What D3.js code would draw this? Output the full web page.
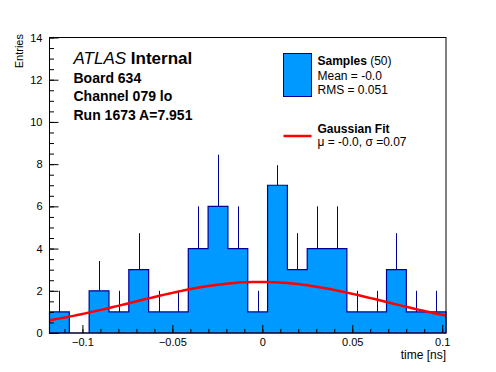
<!DOCTYPE html>
<html>
<head>
<meta charset="utf-8">
<script src="https://cdn.jsdelivr.net/npm/d3@7"></script>
<style>
  body { margin: 0; background: #fff; }
  svg { display: block; font-family: "Liberation Sans", Arial, Helvetica, sans-serif; }
</style>
</head>
<body>
<svg width="496" height="372"></svg>
<script>
  // histogram range and contents (20 bins)
  const binMin = -0.1183, binMax = 0.1021;
  const counts = [1, 0, 2, 1, 3, 1, 1, 4, 6, 4, 1, 7, 3, 4, 4, 1, 1, 3, 1, 1];
  const errors = [1, 0, 1.41, 1, 1.73, 1, 1, 2, 2.45, 2, 1, 0.95, 1.73, 2, 2, 1, 1, 1.73, 1, 1];
  const xTicks = [-0.1, -0.05, 0, 0.05, 0.1];
  const yTicks = [0, 2, 4, 6, 8, 10, 12, 14];
  const sampleCount = 50;
  // gaussian fit parameters
  const fitAmp = 2.42, fitMean = -0.0012, fitSigma = 0.0703;
  const infoLines = ["Board 634", "Channel 079 lo", "Run 1673 A=7.951"];

  const fillColor = "#0099ff", lineColor = "#000099";

  const svg = d3.select("svg");
  const padL = 49.5, padR = 446, padT = 37.5, padB = 333;

  const x = d3.scaleLinear().domain([binMin, binMax]).range([padL, padR]);
  const y = d3.scaleLinear().domain([0, 14]).range([padB, padT]);

  const nb = counts.length;
  const bw = (binMax - binMin) / nb;
  const bins = counts.map((c, i) => ({ x0: binMin + i * bw, x1: binMin + (i + 1) * bw, c, e: errors[i] }));

  // error bars (upper part, lower part is hidden by the fill)
  svg.append("g").selectAll("line")
    .data(bins.filter(d => d.c > 0))
    .enter().append("line")
    .attr("x1", d => Math.round(x((d.x0 + d.x1) / 2)) + 0.5)
    .attr("x2", d => Math.round(x((d.x0 + d.x1) / 2)) + 0.5)
    .attr("y1", d => y(d.c))
    .attr("y2", d => y(d.c + d.e))
    .attr("stroke", lineColor)
    .attr("stroke-width", 1);

  // filled histogram as a step path
  const pts = [[x(binMin), y(0)]];
  bins.forEach(d => { pts.push([x(d.x0), y(d.c)]); pts.push([x(d.x1), y(d.c)]); });
  pts.push([x(binMax), y(0)]);

  svg.append("path")
    .attr("d", d3.line()(pts) + "Z")
    .attr("fill", fillColor)
    .attr("stroke", lineColor)
    .attr("stroke-width", 1.2);

  // gaussian fit curve
  const gauss = t => fitAmp * Math.exp(-((t - fitMean) ** 2) / (2 * fitSigma * fitSigma));
  const xs = d3.range(101).map(i => binMin + i * (binMax - binMin) / 100);
  svg.append("path")
    .attr("d", d3.line().x(t => x(t)).y(t => y(gauss(t)))(xs))
    .attr("fill", "none")
    .attr("stroke", "#ff0000")
    .attr("stroke-width", 2.5);

  // axes, ticks pointing inward
  const fmt = d3.format("~g");
  const xMinor = svg.append("g").attr("transform", `translate(0,${padB})`)
    .call(d3.axisBottom(x).tickValues(d3.range(-11, 11).map(i => i / 100)).tickSize(-4).tickFormat(""));
  xMinor.select(".domain").remove();
  const xMajor = svg.append("g").attr("transform", `translate(0,${padB})`)
    .call(d3.axisBottom(x).tickValues(xTicks).tickSize(-8).tickPadding(5.5).tickFormat(fmt));
  xMajor.select(".domain").remove();

  const yMinor = svg.append("g").attr("transform", `translate(${padL},0)`)
    .call(d3.axisLeft(y).tickValues(d3.range(0, 29).map(i => i / 2)).tickSize(-4.5).tickFormat(""));
  yMinor.select(".domain").remove();
  const yMajor = svg.append("g").attr("transform", `translate(${padL},0)`)
    .call(d3.axisLeft(y).tickValues(yTicks).tickSize(-9).tickPadding(7).tickFormat(fmt));
  yMajor.select(".domain").remove();

  svg.selectAll(".tick line").attr("stroke", "#000");
  svg.selectAll(".tick text").attr("font-size", 11).attr("font-family", "Liberation Sans, Arial, sans-serif").attr("fill", "#000");

  // frame
  svg.append("rect")
    .attr("x", padL).attr("y", padT)
    .attr("width", padR - padL).attr("height", padB - padT)
    .attr("fill", "none").attr("stroke", "#000").attr("stroke-width", 1);

  // axis titles
  svg.append("text")
    .attr("x", padR).attr("y", 359)
    .attr("text-anchor", "end").attr("font-size", 12)
    .text("time [ns]");
  svg.append("text")
    .attr("transform", "translate(23,34) rotate(-90)")
    .attr("text-anchor", "end").attr("font-size", 11)
    .text("Entries");

  // ATLAS label
  const atlas = svg.append("text").attr("x", 73.5).attr("y", 64).attr("font-size", 17);
  atlas.append("tspan").attr("font-style", "italic").text("ATLAS");
  atlas.append("tspan").attr("font-weight", "bold").text(" Internal");

  svg.append("g").selectAll("text")
    .data(infoLines)
    .enter().append("text")
    .attr("x", 73.5)
    .attr("y", (d, i) => 82.5 + i * 18.5)
    .attr("font-size", 14)
    .attr("font-weight", "bold")
    .text(d => d);

  // legend
  const lx = 283.5, tx = 317.5;
  svg.append("rect")
    .attr("x", lx).attr("y", 53.5).attr("width", 28).attr("height", 43)
    .attr("fill", fillColor).attr("stroke", lineColor).attr("stroke-width", 1);
  const s1 = svg.append("text").attr("x", tx).attr("y", 65).attr("font-size", 12);
  s1.append("tspan").attr("font-weight", "bold").text("Samples");
  s1.append("tspan").text(` (${sampleCount})`);
  svg.append("text").attr("x", tx).attr("y", 80).attr("font-size", 12).text("Mean = -0.0");
  svg.append("text").attr("x", tx).attr("y", 93.5).attr("font-size", 12).text("RMS = 0.051");

  svg.append("line")
    .attr("x1", lx).attr("x2", lx + 28).attr("y1", 136).attr("y2", 136)
    .attr("stroke", "#ff0000").attr("stroke-width", 2.5);
  svg.append("text").attr("x", tx).attr("y", 132.5).attr("font-size", 12).attr("font-weight", "bold").text("Gaussian Fit");
  svg.append("text").attr("x", tx).attr("y", 145.5).attr("font-size", 12).text("\u03bc = -0.0, \u03c3 =0.07");
</script>
</body>
</html>
